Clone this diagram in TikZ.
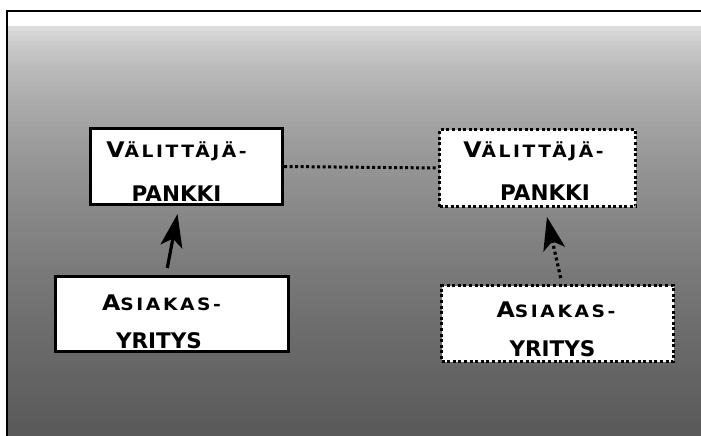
\documentclass[tikz,border=0pt]{standalone}
\usepackage{fontspec}
\usetikzlibrary{arrows.meta}
\newfontfamily\cop{DejaVu Sans}
\newfontfamily\copw[FakeStretch=1.1]{DejaVu Sans}
\newcommand\Bg{\fontsize{21.5}{23}\selectfont}
\newcommand\Sm{\fontsize{17}{18}\selectfont\addfontfeature{LetterSpace=15}}
\begin{document}
\begin{tikzpicture}[x=1pt,y=-1pt,
  box/.style={fill=white, inner sep=0pt, line width=3.2pt, draw=black},
  solidb/.style={box},
  dotb/.style={box, dash pattern=on 3pt off 2.6pt},
  lbl/.style={inner sep=0pt, anchor=base, font=\cop\bfseries},
  lblw/.style={inner sep=0pt, anchor=base, font=\copw\bfseries},
  arr/.style={line width=3.2pt, -{Stealth[length=33pt,width=22pt,inset=8pt]}},
  dotarr/.style={arr, dash pattern=on 3pt off 3pt},
  dotline/.style={line width=3pt, dash pattern=on 3pt off 2.5pt}]
\useasboundingbox (0,0) rectangle (701,436);
% background gradient
\foreach \i in {0,...,85}{
  \pgfmathsetmacro\yy{11+5*\i}
  \pgfmathsetmacro\pp{(\yy<22) ? 0 : 8+57*sqrt(max(0,(\yy-22)/410))}
  \fill[black!\pp] (7,\yy) rectangle (701,\yy+5.6);
}
% frame
\draw[line width=2.6pt] (7,445) -- (7,11) -- (712,11);
% boxes
\node[solidb, minimum width=192pt, minimum height=76pt] (p1) at (186.5,166.5) {};
\node[dotb, minimum width=196pt, minimum height=77pt] (p2) at (537.5,168) {};
\node[solidb, minimum width=233pt, minimum height=75pt] (a1) at (172,314) {};
\node[dotb, minimum width=232pt, minimum height=76pt] (a2) at (557.5,323.5) {};
% labels
\node[lblw] (t1a) at (176.5,157) {{\Bg V}{\Sm ÄLITTÄJÄ-}};
\node[lbl] (t1b) at (176.5,201) {\Bg PANKKI};
\node[lblw] (t2a) at (533.5,157) {{\Bg V}{\Sm ÄLITTÄJÄ-}};
\node[lbl] (t2b) at (545,200) {\Bg PANKKI};
\node[lblw] (t3a) at (161.5,310) {{\Bg A}{\Sm SIAKAS-}};
\node[lbl] (t3b) at (159,348) {\Bg YRITYS};
\node[lblw] (t4a) at (556,317) {{\Bg A}{\Sm SIAKAS-}};
\node[lbl] (t4b) at (552.5,356) {\Bg YRITYS};
% connectors
\draw[dotline] (p1.east) -- (p2.west);
\draw[arr, shorten <=7pt, shorten >=8pt] ([xshift=-6pt]a1.north) -- ([xshift=-7.5pt]p1.south);
\draw[dotarr, shorten <=6pt, shorten >=9pt] ([xshift=4.5pt]a2.north) -- ([xshift=7.5pt]p2.south);
\end{tikzpicture}
\end{document}
